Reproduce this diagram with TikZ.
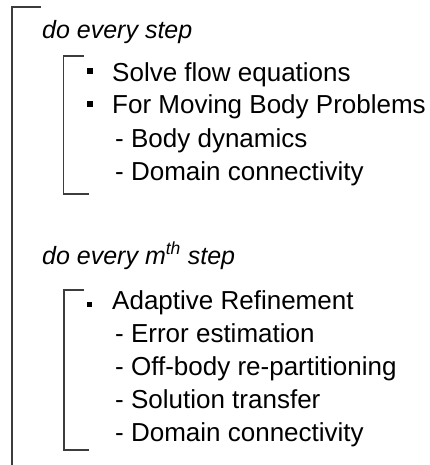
\documentclass[tikz,border=0pt]{standalone}
\usepackage{fontspec}
\setmainfont{Liberation Sans}
\definecolor{brkgray}{RGB}{60, 60, 60}

\begin{document}
\begin{tikzpicture}[x=1pt, y=-1pt]
\tikzset{
  listtext/.style={inner sep=0, anchor=base west, font=\fontsize{26}{31}\selectfont},
  headtext/.style={listtext, font=\fontsize{25}{30}\selectfont\itshape},
  sqbullet/.style={fill=black, inner sep=0, minimum size=6pt},
  bracket/.style={brkgray, line width=1.2pt}
}
\useasboundingbox (0, 0) rectangle (430, 465);

% outer loop
\draw[bracket] (41, 7) -- (12, 7) -- (12, 465);

\node[headtext] (every) at (42, 39) {do every step};

% every step block
\draw[bracket] (84, 56) -- (63.5, 56) -- (63.5, 194) -- (89, 194);
\node[sqbullet] (b1) at (90, 71) {};
\node[sqbullet] (b2) at (90, 104) {};
\node[listtext] (solve) at (112, 82) {Solve flow equations};
\node[listtext] (moving) at (112, 114) {For Moving Body Problems};
\node[listtext] (dyn) at (115, 147) {- Body dynamics};
\node[listtext] (conn1) at (115, 180) {- Domain connectivity};

\node[headtext] (everym) at (42, 264) {do every m\textsuperscript{th} step};

% every m-th step block
\draw[bracket] (84, 290) -- (64, 290) -- (64, 450) -- (89, 450);
\node[sqbullet, minimum size=5pt] (b3) at (89.5, 304) {};
\node[listtext] (adapt) at (112, 309) {Adaptive Refinement};
\node[listtext] (err) at (115, 342) {- Error estimation};
\node[listtext] (part) at (115, 375) {- Off-body re-partitioning};
\node[listtext] (transfer) at (115, 408) {- Solution transfer};
\node[listtext] (conn2) at (115, 441) {- Domain connectivity};
\end{tikzpicture}
\end{document}
